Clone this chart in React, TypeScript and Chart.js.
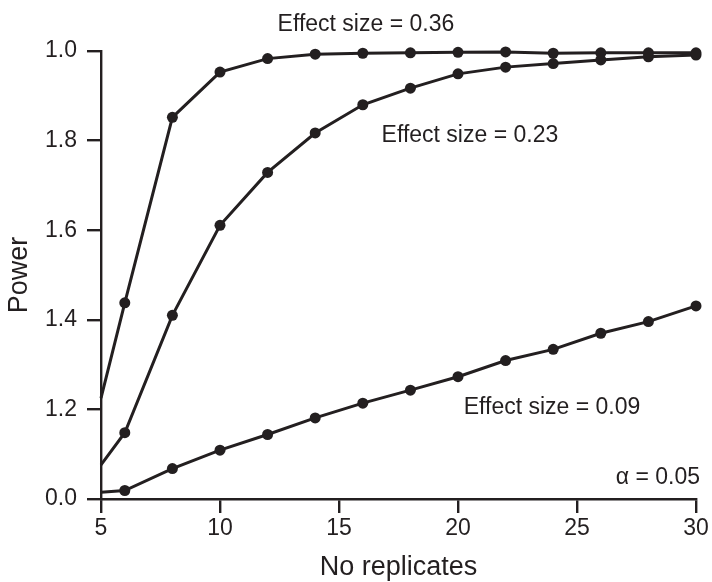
import React, { useEffect, useRef } from "react";
import { Chart, registerables } from "chart.js";

Chart.register(...registerables);

// Number of replicates (x)
const replicates = [5, 6, 8, 10, 12, 14, 16, 18, 20, 22, 24, 26, 28, 30];

// Power values
const power036 = [0.225, 0.438, 0.852, 0.953, 0.983, 0.993, 0.995, 0.996, 0.997, 0.998, 0.995, 0.996, 0.996, 0.996];
const power023 = [0.076, 0.148, 0.41, 0.611, 0.729, 0.817, 0.88, 0.917, 0.949, 0.964, 0.972, 0.98, 0.987, 0.991];
const power009 = [0.015, 0.019, 0.068, 0.109, 0.144, 0.181, 0.214, 0.243, 0.273, 0.309, 0.334, 0.37, 0.396, 0.431];

const seriesNames = ["Effect size = 0.36", "Effect size = 0.23", "Effect size = 0.09"];
const alphaLabel = "\u03b1 = 0.05";

// Tick labels as printed on the reference
const yTickLabels = ["0.0", "1.2", "1.4", "1.6", "1.8", "1.0"];
const xTickValues = [5, 10, 15, 20, 25, 30];

const INK = "#231f20";
const FONT = "'Liberation Sans', Arial, Helvetica, sans-serif";

// annotation anchors in data coordinates
const annotations = [
  { text: seriesNames[0], x: 16.13, y: 1.058, align: "center" as CanvasTextAlign, size: 23 },
  { text: seriesNames[1], x: 20.5, y: 0.81, align: "center" as CanvasTextAlign, size: 23 },
  { text: seriesNames[2], x: 23.95, y: 0.203, align: "center" as CanvasTextAlign, size: 23 },
  { text: alphaLabel, x: 30.17, y: 0.047, align: "right" as CanvasTextAlign, size: 23 },
];

const toPoints = (ys: number[]) => replicates.map((x, i) => ({ x, y: ys[i] }));

export default function App() {
  const ref = useRef<HTMLCanvasElement | null>(null);

  useEffect(() => {
    if (!ref.current) return;
    const radii = replicates.map((_, i) => (i === 0 ? 0 : 5.5));
    const mk = (label: string, ys: number[]) => ({
      label,
      data: toPoints(ys),
      borderColor: INK,
      backgroundColor: INK,
      borderWidth: 3,
      pointRadius: radii,
      pointHoverRadius: radii,
      pointBorderWidth: 0,
      pointBackgroundColor: INK,
      tension: 0,
      clip: false as any,
    });

    const annotationPlugin = {
      id: "annots",
      afterDatasetsDraw(chart: any) {
        const { ctx, scales } = chart;
        ctx.save();
        ctx.fillStyle = INK;
        ctx.textBaseline = "middle";
        for (const a of annotations) {
          ctx.font = `${a.size}px ${FONT}`;
          ctx.textAlign = a.align;
          ctx.fillText(a.text, scales.x.getPixelForValue(a.x), scales.y.getPixelForValue(a.y));
        }
        ctx.restore();
      },
    };

    const chart = new Chart(ref.current, {
      type: "line",
      data: {
        datasets: [mk(seriesNames[0], power036), mk(seriesNames[1], power023), mk(seriesNames[2], power009)],
      },
      options: {
        animation: false,
        responsive: false,
        maintainAspectRatio: false,
        layout: { padding: { top: 51, right: 16, left: 0, bottom: 0 } },
        plugins: { legend: { display: false }, tooltip: { enabled: false } },
        scales: {
          x: {
            type: "linear",
            min: 5,
            max: 30,
            afterBuildTicks: (scale: any) => {
              scale.ticks = xTickValues.map((v) => ({ value: v }));
            },
            afterFit: (scale: any) => {
              scale.height = 83;
            },
            grid: { drawOnChartArea: false, drawTicks: true, tickLength: 14, color: INK, lineWidth: 2.4 },
            border: { display: true, color: INK, width: 2.4 },
            ticks: { color: INK, font: { family: FONT, size: 23 }, padding: 2, maxRotation: 0 },
            title: {
              display: true,
              text: "No replicates",
              color: INK,
              font: { family: FONT, size: 27, lineHeight: 1 },
              padding: { top: 0, bottom: 1 },
            },
          },
          y: {
            type: "linear",
            min: 0,
            max: 1,
            afterBuildTicks: (scale: any) => {
              scale.ticks = yTickLabels.map((_, i) => ({ value: i * 0.2 }));
            },
            afterFit: (scale: any) => {
              scale.width = 101;
            },
            grid: { drawOnChartArea: false, drawTicks: true, tickLength: 14, color: INK, lineWidth: 2.4 },
            border: { display: true, color: INK, width: 2.4 },
            ticks: {
              color: INK,
              font: { family: FONT, size: 23 },
              padding: 10,
              callback: (_v: any, i: number) => yTickLabels[i],
            },
            title: {
              display: true,
              text: "Power",
              color: INK,
              font: { family: FONT, size: 27, lineHeight: 1 },
              padding: { top: 6.5, bottom: 0 },
            },
          },
        },
      },
      plugins: [annotationPlugin],
    });
    return () => chart.destroy();
  }, []);

  return (
    <div style={{ position: "fixed", left: 0, top: 0, width: 712, height: 582, background: "#fff" }}>
      <canvas ref={ref} width={712} height={582} style={{ display: "block", width: 712, height: 582 }} />
    </div>
  );
}
